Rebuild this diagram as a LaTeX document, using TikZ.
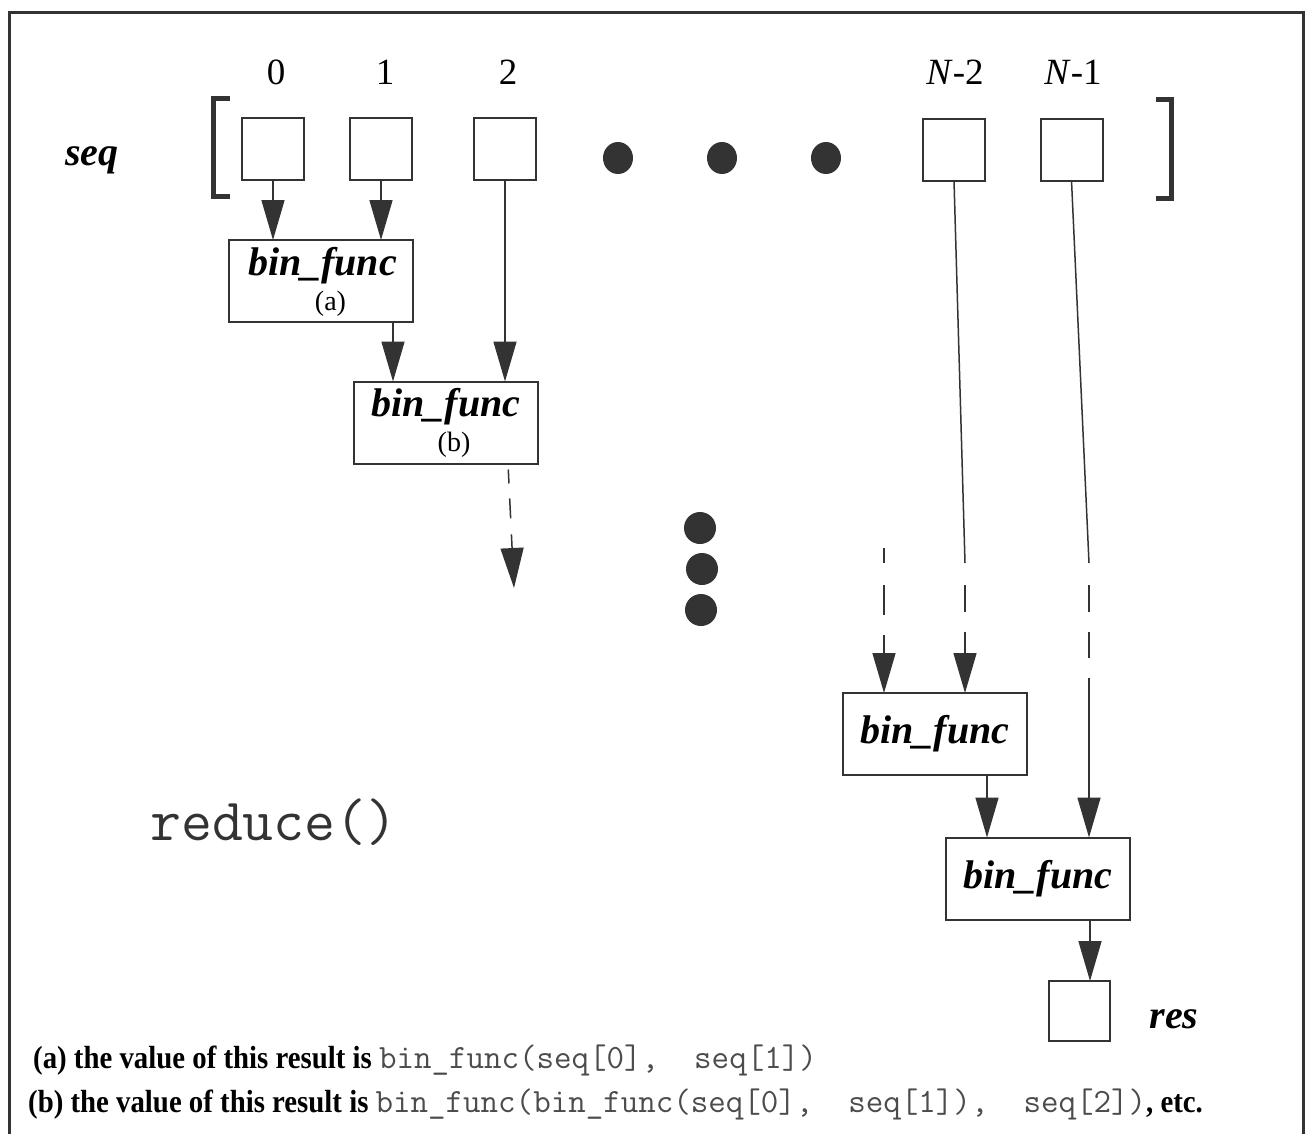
\documentclass[tikz,border=0pt]{standalone}
\usepackage{fontspec}
\setmainfont{Liberation Serif}
\newfontfamily\condfont[FakeStretch=0.9]{Liberation Serif}
\newcommand\mycodefont{\mdseries\ttfamily\fontsize{34}{35}\selectfont\color{black!70}}
\usetikzlibrary{arrows.meta,calc}
\definecolor{ink}{HTML}{333333}
\begin{document}
\begin{tikzpicture}[x=1pt,y=-1pt,
  sq/.style={draw=ink, line width=2pt, minimum width=62pt, minimum height=62pt, inner sep=0pt, outer sep=0pt},
  fbox/.style={draw=ink, line width=2pt, minimum width=184pt, minimum height=82pt, inner sep=0pt, outer sep=0pt, font=\fontsize{40}{42}\selectfont\bfseries\itshape},
  blab/.style={anchor=base, inner sep=0pt, font=\fontsize{40}{42}\selectfont\bfseries\itshape},
  slab/.style={anchor=base, inner sep=0pt, font=\fontsize{28}{30}\selectfont},
  idx/.style={anchor=base, inner sep=0pt, font=\fontsize{37}{39}\selectfont},
  arr/.style={draw=ink, line width=1.5pt, -{Triangle[length=40pt,width=23pt]}},
  ln/.style={draw=ink, line width=1.5pt},
  brk/.style={draw=ink, line width=5pt, line join=miter},
  frame/.style={draw=black!80, line width=3pt},
  note/.style={anchor=base west, inner sep=0pt, font=\condfont\bfseries\fontsize{32}{34}\selectfont}]
\useasboundingbox (0,0) rectangle (1307,1133);
% frame
\draw[frame] (9,1140) -- (9,12) -- (1303,12) -- (1303,1140);
% index labels
\node[idx] (i0) at (276,84) {0};
\node[idx] (i1) at (385,84) {1};
\node[idx] (i2) at (508,84) {2};
\node[idx] (iN2) at (955,84) {\textit{N}-2};
\node[idx] (iN1) at (1073,84) {\textit{N}-1};
% seq label
\node[blab] (seq) at (92,165) {seq};
% brackets
\draw[brk] (230,98) -- (213,98) -- (213,196) -- (230,196);
\draw[brk] (1156,99) -- (1171,99) -- (1171,198) -- (1156,198);
% seq boxes
\node[sq] (s0) at (273,149) {};
\node[sq] (s1) at (381,149) {};
\node[sq] (s2) at (505,149) {};
\node[sq] (sN2) at (954,149.5) {};
\node[sq] (sN1) at (1071.5,149.5) {};
% dots
\fill[ink] (618,158) ellipse [x radius=15pt, y radius=16pt];
\fill[ink] (722,158) ellipse [x radius=15pt, y radius=16pt];
\fill[ink] (826,158) ellipse [x radius=15pt, y radius=16pt];
\fill[ink] (700,528) ellipse [x radius=16pt, y radius=16pt];
\fill[ink] (702,569) ellipse [x radius=16pt, y radius=16pt];
\fill[ink] (701,610) ellipse [x radius=16pt, y radius=16pt];
% bin_func boxes
\node[fbox] (a) at (320.5,281) {};
\node[blab] (at) at ([xshift=2pt,yshift=-35pt]a.north) {bin\_func};
\node[slab] (al) at ([xshift=10pt,yshift=12pt]a.south) {(a)};
\node[fbox] (b) at (446,422.5) {};
\node[blab] (bt) at ([yshift=-35pt]b.north) {bin\_func};
\node[slab] (bl) at ([xshift=8pt,yshift=12pt]b.south) {(b)};
\node[fbox] (c) at (935,734) {bin\_func};
\node[fbox] (d) at (1038,878.5) {bin\_func};
\node[sq, minimum width=61pt, minimum height=60pt] (res) at (1079.5,1011) {};
\node[blab] (rest) at (1174,1028) {res};
% arrows
\draw[arr] (s0.south) -- (s0.south |- a.north);
\draw[arr] (s1.south) -- (s1.south |- a.north);
\coordinate (aout) at ([xshift=72.5pt]a.south);
\draw[arr] (aout) -- (aout |- b.north);
\draw[arr] (s2.south) -- (s2.south |- b.north);
\coordinate (bout) at ([xshift=62pt]b.south);
\coordinate (bend) at (514,588);
\draw[arr, dash pattern=on 0pt off 6pt on 14pt off 15pt on 20pt off 16pt on 300pt] (bout) -- (bend);
% right side
\coordinate (cin) at (884,548);
\draw[arr, dash pattern=on 15pt off 22pt on 30pt off 20pt on 300pt] (cin) -- (cin |- c.north);
\coordinate (kN2) at (965,563);
\draw[ln] (sN2.south) -- (kN2);
\draw[arr, dash pattern=on 0pt off 22pt on 27pt off 20pt on 300pt] (kN2) -- (kN2 |- c.north);
\coordinate (kN1) at (1089,563);
\draw[ln] (sN1.south) -- (kN1);
\draw[arr, dash pattern=on 0pt off 22pt on 27pt off 20pt on 26pt off 20pt on 400pt] (kN1) -- (kN1 |- d.north);
\coordinate (cout) at ([xshift=52pt]c.south);
\draw[arr] (cout) -- (cout |- d.north);
\coordinate (dout) at ([xshift=52pt]d.south);
\draw[arr] (dout) -- (dout |- res.north);
% reduce()
\node[anchor=base west, inner sep=0pt, text=black!80, font=\ttfamily\fontsize{60}{62}\selectfont] (red) at (150,840) {reduce()};
% notes
\node[note] (na) at (33,1068) {(a) the value of this result is {\mycodefont bin\_func(seq[0],\ \ seq[1])}};
\node[note] (nb) at (28,1112) {(b) the value of this result is {\mycodefont bin\_func(bin\_func(seq[0],\ \ seq[1]),\ \ seq[2])}, etc.};
\end{tikzpicture}
\end{document}
